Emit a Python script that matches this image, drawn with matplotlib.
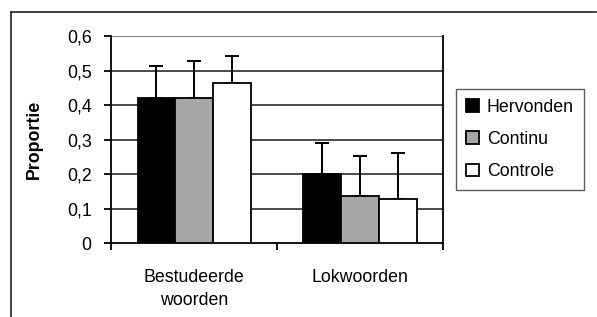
import matplotlib

matplotlib.use("Agg")
import matplotlib.pyplot as plt
from matplotlib.lines import Line2D
import numpy as np

plt.rcParams["font.family"] = ["Liberation Sans", "DejaVu Sans"]

CATEGORIES = ["Bestudeerde\nwoorden", "Lokwoorden"]
SERIES = ["Hervonden", "Continu", "Controle"]
COLOURS = ["#000000", "#a7a7a9", "#ffffff"]
MEANS = [
    [0.42, 0.20],   # Hervonden
    [0.42, 0.137],  # Continu
    [0.463, 0.128], # Controle
]
ERRORS = [
    [0.093, 0.09],
    [0.108, 0.114],
    [0.079, 0.132],
]
YTICKS = [0, 0.1, 0.2, 0.3, 0.4, 0.5, 0.6]
YTICK_LABELS = ["0", "0,1", "0,2", "0,3", "0,4", "0,5", "0,6"]

FS = 12.8

fig = plt.figure(figsize=(5.97, 3.17), dpi=100)
ax = fig.add_axes([0.186, 0.2334, 0.556, 0.653])

x = np.arange(len(CATEGORIES))
w = 0.227
for i, (name, col) in enumerate(zip(SERIES, COLOURS)):
    pos = x + (i - 1) * w
    ax.bar(pos, MEANS[i], width=w, color=col, edgecolor="black",
           linewidth=1.3, label=name, zorder=3)
    ax.errorbar(pos, MEANS[i], yerr=[np.zeros(len(x)), ERRORS[i]],
                fmt="none", ecolor="black", elinewidth=1.4, capsize=5.2,
                capthick=1.4, zorder=2)

for yv in YTICKS[1:]:
    ax.axhline(yv, color="#1a1a1a" if yv < 0.55 else "#555555", lw=1.1, zorder=1)

ax.set_xlim(-0.5, 1.5)
ax.set_ylim(0, 0.6)
ax.set_yticks(YTICKS)
ax.set_yticklabels(YTICK_LABELS, fontsize=FS)
ax.set_xticks([-0.5, 0.5, 1.5])
ax.set_xticklabels([])
ax.set_xticks(x, minor=True)
ax.set_xticklabels(CATEGORIES, minor=True, fontsize=FS, linespacing=1.45)
ax.tick_params(axis="x", which="minor", length=0, pad=19)
ax.tick_params(axis="both", which="major", direction="out", length=5,
               width=1.3, color="black")
ax.tick_params(axis="y", pad=9)
ax.spines["top"].set_visible(False)
for s_ in ("left", "right", "bottom"):
    ax.spines[s_].set_linewidth(1.3)
ax.set_ylabel("Proportie", fontsize=FS, fontweight="bold", labelpad=17)

leg = ax.legend(loc="center left", bbox_to_anchor=(1.04, 0.5), fontsize=FS,
                frameon=True, fancybox=False, edgecolor="#333333",
                handlelength=0.72, handleheight=0.72, handletextpad=0.45,
                labelspacing=0.85, borderpad=0.55, borderaxespad=0)
leg.get_frame().set_linewidth(1.0)

# outer frame around the chart (open at right and bottom)
fig.add_artist(Line2D([11 / 597, 11 / 597], [0, 1 - 12 / 317],
                      transform=fig.transFigure, color="#333333", lw=1.3))
fig.add_artist(Line2D([11 / 597, 596 / 597], [1 - 12 / 317, 1 - 12 / 317],
                      transform=fig.transFigure, color="#333333", lw=1.3))

fig.savefig("out.png", dpi=100)
